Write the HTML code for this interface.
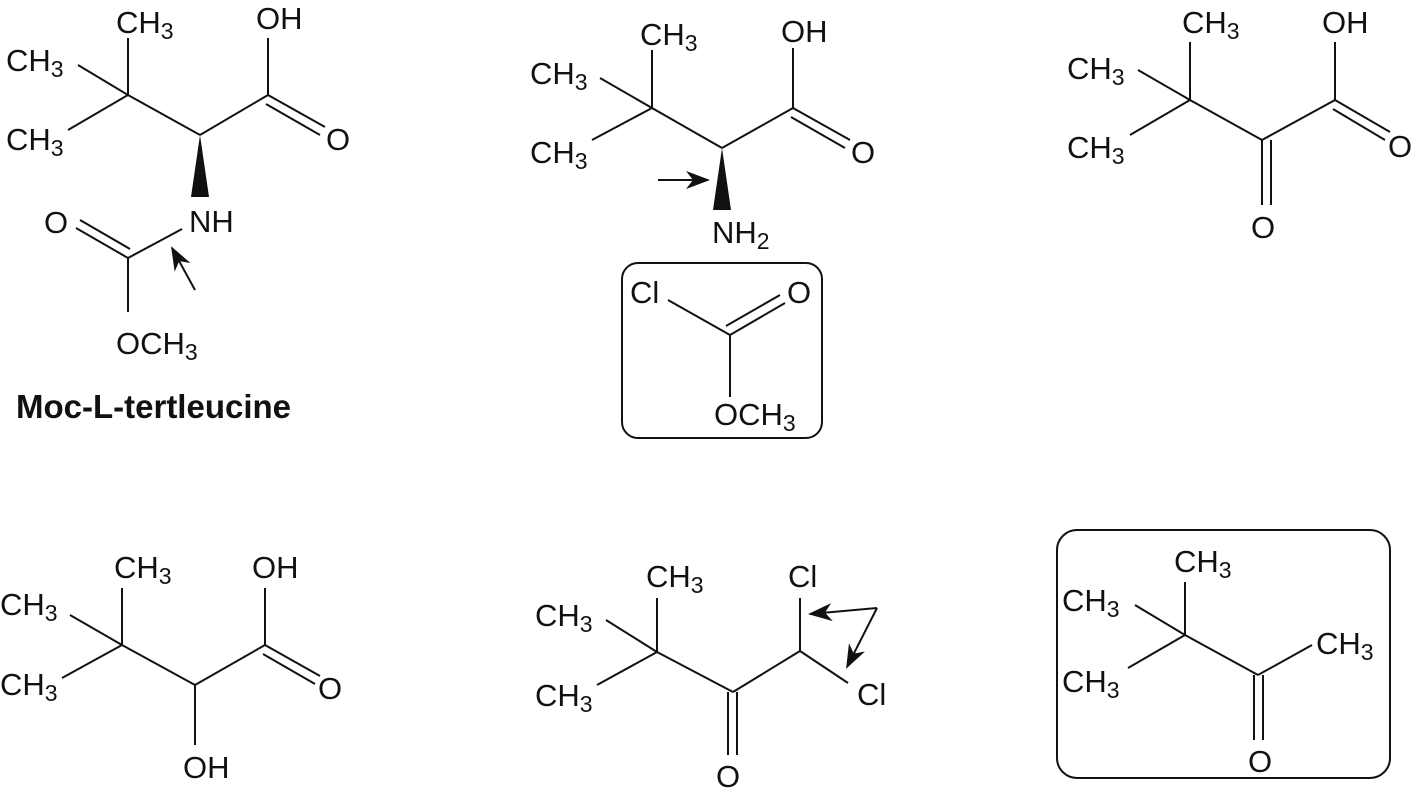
<!DOCTYPE html>
<html><head><style>
html,body{margin:0;padding:0;background:#fff;}
svg{display:block;}
text{font-family:"Liberation Sans",sans-serif;font-size:31px;fill:#111;}
.s{font-size:23px;}
</style></head><body>
<svg width="1417" height="796" viewBox="0 0 1417 796" xmlns="http://www.w3.org/2000/svg">
<defs>
<marker id="ah2" markerWidth="24" markerHeight="18" refX="22" refY="9" orient="auto" markerUnits="userSpaceOnUse">
<path d="M0,0 L24,9 L0,18 L7,9 z" fill="#111"/></marker>
</defs>
<g stroke="#111" stroke-width="2" fill="none">
<!-- Mol 1 -->
<line x1="128" y1="38" x2="128" y2="95"/>
<line x1="78" y1="65" x2="128" y2="95"/>
<line x1="68" y1="130" x2="128" y2="95"/>
<line x1="128" y1="95" x2="200" y2="135"/>
<line x1="200" y1="135" x2="268" y2="95"/>
<line x1="268" y1="95" x2="268" y2="38"/>
<line x1="268" y1="95" x2="325" y2="127"/>
<line x1="266" y1="104" x2="320" y2="135"/>
<line x1="182" y1="229" x2="128" y2="258"/>
<line x1="128" y1="258" x2="76" y2="228"/>
<line x1="130" y1="249" x2="80" y2="220"/>
<line x1="128" y1="258" x2="128" y2="312"/>
<line x1="195" y1="290" x2="172" y2="248" marker-end="url(#ah2)"/>
<!-- Mol 2 -->
<line x1="652" y1="50" x2="652" y2="108"/>
<line x1="600" y1="78" x2="652" y2="108"/>
<line x1="592" y1="140" x2="652" y2="108"/>
<line x1="652" y1="108" x2="722" y2="148"/>
<line x1="722" y1="148" x2="793" y2="108"/>
<line x1="793" y1="108" x2="793" y2="48"/>
<line x1="793" y1="108" x2="850" y2="140"/>
<line x1="791" y1="117" x2="845" y2="148"/>
<line x1="658" y1="180" x2="708" y2="180" marker-end="url(#ah2)"/>
<rect x="622" y="263" width="200" height="175" rx="16"/>
<line x1="668" y1="300" x2="730" y2="335"/>
<line x1="730" y1="335" x2="785" y2="303"/>
<line x1="726" y1="326" x2="780" y2="295"/>
<line x1="730" y1="335" x2="730" y2="397"/>
<!-- Mol 3 -->
<line x1="1190" y1="42" x2="1190" y2="100"/>
<line x1="1138" y1="70" x2="1190" y2="100"/>
<line x1="1130" y1="135" x2="1190" y2="100"/>
<line x1="1190" y1="100" x2="1262" y2="140"/>
<line x1="1262" y1="140" x2="1262" y2="205"/>
<line x1="1271" y1="140" x2="1271" y2="205"/>
<line x1="1262" y1="140" x2="1335" y2="100"/>
<line x1="1335" y1="100" x2="1335" y2="42"/>
<line x1="1335" y1="100" x2="1390" y2="132"/>
<line x1="1333" y1="109" x2="1385" y2="140"/>
<!-- Mol 4 -->
<line x1="122" y1="588" x2="122" y2="645"/>
<line x1="70" y1="615" x2="122" y2="645"/>
<line x1="62" y1="678" x2="122" y2="645"/>
<line x1="122" y1="645" x2="195" y2="685"/>
<line x1="195" y1="685" x2="195" y2="745"/>
<line x1="195" y1="685" x2="265" y2="645"/>
<line x1="265" y1="645" x2="265" y2="588"/>
<line x1="265" y1="645" x2="320" y2="676"/>
<line x1="263" y1="654" x2="315" y2="684"/>
<!-- Mol 5 -->
<line x1="657" y1="598" x2="657" y2="652"/>
<line x1="606" y1="620" x2="657" y2="652"/>
<line x1="597" y1="685" x2="657" y2="652"/>
<line x1="657" y1="652" x2="733" y2="692"/>
<line x1="728" y1="692" x2="728" y2="755"/>
<line x1="737" y1="692" x2="737" y2="755"/>
<line x1="733" y1="692" x2="800" y2="651"/>
<line x1="800" y1="651" x2="800" y2="598"/>
<line x1="800" y1="651" x2="848" y2="683"/>
<line x1="877" y1="608" x2="810" y2="614" marker-end="url(#ah2)"/>
<line x1="877" y1="608" x2="847" y2="667" marker-end="url(#ah2)"/>
<!-- Mol 6 -->
<rect x="1057" y="530" width="333" height="248" rx="20"/>
<line x1="1185" y1="582" x2="1185" y2="635"/>
<line x1="1135" y1="605" x2="1185" y2="635"/>
<line x1="1128" y1="668" x2="1185" y2="635"/>
<line x1="1185" y1="635" x2="1258" y2="675"/>
<line x1="1254" y1="675" x2="1254" y2="740"/>
<line x1="1263" y1="675" x2="1263" y2="740"/>
<line x1="1258" y1="675" x2="1312" y2="645"/>
</g>
<polygon points="200,135 191,197 209,197" fill="#111"/>
<polygon points="722,148 713,210 731,210" fill="#111"/>
<!-- Mol1 text -->
<text x="116" y="33">CH<tspan class="s" dy="6">3</tspan></text>
<text x="6" y="71">CH<tspan class="s" dy="6">3</tspan></text>
<text x="6" y="150">CH<tspan class="s" dy="6">3</tspan></text>
<text x="256" y="29">OH</text>
<text x="326" y="150">O</text>
<text x="189" y="232">NH</text>
<text x="44" y="233">O</text>
<text x="116" y="354">OCH<tspan class="s" dy="6">3</tspan></text>
<text x="16" y="418" style="font-weight:bold;font-size:33px">Moc-L-tertleucine</text>
<!-- Mol2 text -->
<text x="640" y="45">CH<tspan class="s" dy="6">3</tspan></text>
<text x="530" y="84">CH<tspan class="s" dy="6">3</tspan></text>
<text x="530" y="163">CH<tspan class="s" dy="6">3</tspan></text>
<text x="781" y="42">OH</text>
<text x="851" y="163">O</text>
<text x="712" y="243">NH<tspan class="s" dy="6">2</tspan></text>
<text x="630" y="303">Cl</text>
<text x="787" y="303">O</text>
<text x="714" y="425">OCH<tspan class="s" dy="6">3</tspan></text>
<!-- Mol3 text -->
<text x="1182" y="33">CH<tspan class="s" dy="6">3</tspan></text>
<text x="1067" y="79">CH<tspan class="s" dy="6">3</tspan></text>
<text x="1067" y="158">CH<tspan class="s" dy="6">3</tspan></text>
<text x="1322" y="33">OH</text>
<text x="1388" y="157">O</text>
<text x="1251" y="238">O</text>
<!-- Mol4 text -->
<text x="114" y="578">CH<tspan class="s" dy="6">3</tspan></text>
<text x="0" y="615">CH<tspan class="s" dy="6">3</tspan></text>
<text x="0" y="695">CH<tspan class="s" dy="6">3</tspan></text>
<text x="252" y="578">OH</text>
<text x="318" y="699">O</text>
<text x="183" y="778">OH</text>
<!-- Mol5 text -->
<text x="646" y="587">CH<tspan class="s" dy="6">3</tspan></text>
<text x="535" y="626">CH<tspan class="s" dy="6">3</tspan></text>
<text x="535" y="706">CH<tspan class="s" dy="6">3</tspan></text>
<text x="788" y="587">Cl</text>
<text x="857" y="705">Cl</text>
<text x="716" y="787">O</text>
<!-- Mol6 text -->
<text x="1174" y="572">CH<tspan class="s" dy="6">3</tspan></text>
<text x="1062" y="611">CH<tspan class="s" dy="6">3</tspan></text>
<text x="1062" y="692">CH<tspan class="s" dy="6">3</tspan></text>
<text x="1316" y="654">CH<tspan class="s" dy="6">3</tspan></text>
<text x="1248" y="772">O</text>
</svg>
</body></html>
